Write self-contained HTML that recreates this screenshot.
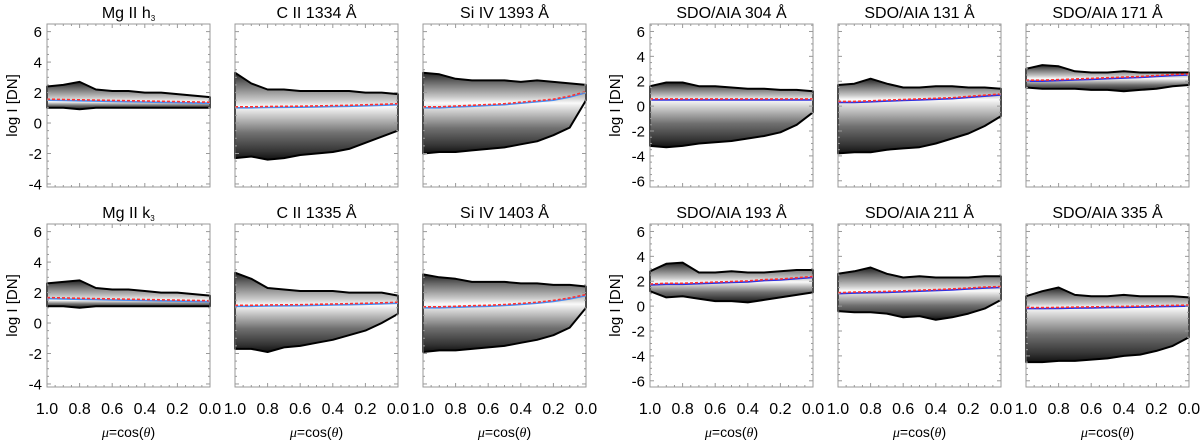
<!DOCTYPE html>
<html><head><meta charset="utf-8"><style>
html,body{margin:0;padding:0;background:#fff;}
svg{display:block;font-family:"Liberation Sans",sans-serif;}
</style></head><body>
<svg id="fig" width="1200" height="441" viewBox="0 0 1200 441" xmlns="http://www.w3.org/2000/svg">
<defs id="defs"></defs>
</svg>
<script>
const muVals = [1.0,0.9,0.8,0.7,0.6,0.5,0.4,0.3,0.2,0.1,0.0];
const panelTitles = ["Mg II h","C II 1334 Å","Si IV 1393 Å","Mg II k","C II 1335 Å","Si IV 1403 Å",
  "SDO/AIA 304 Å","SDO/AIA 131 Å","SDO/AIA 171 Å","SDO/AIA 193 Å","SDO/AIA 211 Å","SDO/AIA 335 Å"];
const leftYTicks = [-4,-2,0,2,4,6];
const rightYTicks = [-6,-4,-2,0,2,4,6];
const xTickLabels = ["1.0","0.8","0.6","0.4","0.2","0.0"];
const medians = [
 [1.5,1.48,1.46,1.44,1.42,1.4,1.38,1.36,1.34,1.32,1.3],
 [1.0,1.0,1.02,1.03,1.04,1.06,1.08,1.1,1.13,1.16,1.2],
 [1.0,1.0,1.05,1.1,1.15,1.2,1.3,1.4,1.5,1.7,2.0],
 [1.6,1.58,1.56,1.54,1.52,1.5,1.48,1.46,1.44,1.42,1.4],
 [1.1,1.1,1.12,1.13,1.14,1.16,1.18,1.2,1.23,1.26,1.3],
 [1.0,1.0,1.03,1.07,1.1,1.15,1.22,1.3,1.42,1.58,1.8],
 [0.5,0.5,0.5,0.5,0.5,0.5,0.5,0.5,0.5,0.5,0.5],
 [0.3,0.3,0.35,0.4,0.45,0.5,0.55,0.6,0.7,0.8,0.9],
 [2.0,2.0,2.05,2.1,2.15,2.2,2.25,2.3,2.38,2.45,2.5],
 [1.7,1.75,1.75,1.8,1.85,1.9,1.95,2.05,2.1,2.2,2.3],
 [1.0,1.05,1.08,1.1,1.15,1.2,1.25,1.3,1.38,1.45,1.5],
 [-0.2,-0.2,-0.18,-0.16,-0.14,-0.12,-0.1,-0.08,-0.05,-0.02,0.0]
];
const uppers = [
 [2.4,2.5,2.7,2.2,2.1,2.1,2.0,2.0,1.9,1.8,1.7],
 [3.3,2.6,2.2,2.2,2.1,2.1,2.1,2.1,2.0,2.0,1.9],
 [3.3,3.2,2.9,2.8,2.8,2.8,2.7,2.8,2.7,2.6,2.5],
 [2.6,2.7,2.8,2.3,2.2,2.2,2.1,2.0,2.0,1.9,1.8],
 [3.3,2.9,2.3,2.2,2.1,2.1,2.1,2.0,2.0,2.0,1.8],
 [3.2,3.0,2.9,2.7,2.7,2.7,2.6,2.6,2.5,2.5,2.4],
 [1.6,1.9,1.9,1.6,1.6,1.5,1.4,1.4,1.3,1.3,1.2],
 [1.7,1.8,2.2,1.8,1.5,1.5,1.6,1.6,1.5,1.5,1.4],
 [3.0,3.3,3.2,2.8,2.7,2.7,2.8,2.7,2.7,2.7,2.7],
 [2.8,3.4,3.5,2.7,2.7,2.8,2.7,2.7,2.8,2.9,2.9],
 [2.6,2.8,3.1,2.6,2.3,2.4,2.3,2.3,2.3,2.4,2.4],
 [0.8,1.2,1.5,0.9,0.8,0.8,0.9,0.8,0.8,0.8,0.7]
];
const lowers = [
 [1.0,1.0,0.9,1.0,1.0,1.0,1.0,1.0,1.0,1.0,1.0],
 [-2.3,-2.2,-2.4,-2.3,-2.1,-2.0,-1.9,-1.7,-1.3,-0.9,-0.5],
 [-2.0,-1.9,-1.9,-1.8,-1.7,-1.6,-1.4,-1.2,-0.8,-0.3,1.5],
 [1.1,1.1,1.0,1.1,1.1,1.1,1.1,1.1,1.1,1.1,1.1],
 [-1.7,-1.7,-1.9,-1.6,-1.5,-1.3,-1.1,-0.8,-0.5,0.0,0.6],
 [-1.9,-1.8,-1.8,-1.7,-1.6,-1.5,-1.3,-1.1,-0.8,-0.3,1.0],
 [-3.2,-3.3,-3.2,-3.0,-2.9,-2.8,-2.6,-2.4,-2.1,-1.5,-0.5],
 [-3.8,-3.7,-3.7,-3.5,-3.4,-3.3,-3.0,-2.6,-2.2,-1.6,-0.8],
 [1.5,1.4,1.4,1.4,1.3,1.3,1.2,1.3,1.4,1.6,1.7],
 [1.2,0.7,0.8,0.6,0.4,0.4,0.3,0.5,0.7,0.9,1.1],
 [-0.4,-0.5,-0.5,-0.6,-0.9,-0.8,-1.1,-0.9,-0.6,-0.2,0.5],
 [-4.5,-4.5,-4.4,-4.4,-4.3,-4.2,-4.0,-3.9,-3.6,-3.2,-2.5]
];

const NS = "http://www.w3.org/2000/svg";
const svg = document.getElementById('fig');
const defs = document.getElementById('defs');
const panelX = [47,235,423,47,235,423,650,838,1026,650,838,1026];
const panelW = 163;
function mk(tag, attrs, parent){
  const e = document.createElementNS(NS, tag);
  for (const k in attrs) e.setAttribute(k, attrs[k]);
  (parent||svg).appendChild(e);
  return e;
}

for (let p = 0; p < 12; p++) {
  const right = p >= 6;
  const row = (p % 6) < 3 ? 0 : 1;
  const x0 = panelX[p], w = panelW;
  const top = row === 0 ? 24 : 224;
  const h = 163;
  const yMin = right ? -6.5 : -4.2, yMax = right ? 6.6 : 6.5;
  const xs = v => x0 + (1 - v) * w;
  const ys = v => top + (yMax - v) / (yMax - yMin) * h;

  const g = mk('g', {});
  
  

  const up = uppers[p], lo = lowers[p], md = medians[p];
  const uMax = Math.max(...up), lMin = Math.min(...lo);
  const mMean = md.reduce((a, b) => a + b, 0) / md.length;
  const y1 = ys(uMax), y2 = ys(lMin), ym = ys(mMean);
  const off = Math.max(0.02, Math.min(0.98, (ym - y1) / (y2 - y1)));
  const grad = mk('linearGradient', {id: 'gr' + p, gradientUnits: 'userSpaceOnUse', x1: 0, x2: 0, y1: y1, y2: y2}, defs);
  const stops = [[0, '#222'], [off * 0.3, '#666'], [off * 0.8, '#c8c8c8'], [off, '#fafafa'], [off + (1 - off) * 0.15, '#d0d0d0'], [off + (1 - off) * 0.5, '#707070'], [off + (1 - off) * 0.85, '#333'], [1, '#111']];
  stops.forEach(s => mk('stop', {offset: s[0], 'stop-color': s[1]}, grad));

  let d = '';
  muVals.forEach((m, i) => { d += (i ? 'L' : 'M') + xs(m).toFixed(1) + ' ' + ys(up[i]).toFixed(1); });
  for (let i = muVals.length - 1; i >= 0; i--) d += 'L' + xs(muVals[i]).toFixed(1) + ' ' + ys(lo[i]).toFixed(1);
  d += 'Z';
  const band = mk('path', {d: d, fill: 'url(#gr' + p + ')', stroke: '#000', 'stroke-width': 2, 'stroke-linejoin': 'round'}, g);
  
  

  let md2 = '';
  muVals.forEach((m, i) => { md2 += (i ? 'L' : 'M') + xs(m).toFixed(1) + ' ' + ys(md[i]).toFixed(1); });
  const blue = mk('path', {d: md2, fill: 'none', stroke: right ? '#3030e0' : '#4a8cf0', 'stroke-width': 1.6}, g);
  
  
  const red = mk('path', {d: md2, fill: 'none', stroke: '#ff3030', 'stroke-width': 1.6, 'stroke-dasharray': '3 2', transform: 'translate(0,-1)'}, g);
  
  

  const frame = mk('rect', {x: x0, y: top, width: w, height: h, fill: 'none', stroke: '#999', 'stroke-width': 1}, g);
  
  

  for (let k = 0; k <= 20; k++) {
    const v = k / 20, xx = xs(v), len = k % 4 === 0 ? 4 : 2;
    mk('line', {x1: xx, x2: xx, y1: top + h, y2: top + h - len, stroke: '#999', 'stroke-width': 1}, g);
    mk('line', {x1: xx, x2: xx, y1: top, y2: top + len, stroke: '#999', 'stroke-width': 1}, g);
  }
  const yt = right ? rightYTicks : leftYTicks;
  for (let v = Math.ceil(yMin * 2) / 2; v <= yMax; v += 0.5) {
    const yy = ys(v), major = Math.abs(v % 2) < 1e-6, len = major ? 4 : 2;
    mk('line', {x1: x0, x2: x0 + len, y1: yy, y2: yy, stroke: '#999', 'stroke-width': 1}, g);
    mk('line', {x1: x0 + w, x2: x0 + w - len, y1: yy, y2: yy, stroke: '#999', 'stroke-width': 1}, g);
  }
  if (p % 3 === 0) {
    yt.forEach(v => {
      const t = mk('text', {x: x0 - 5, y: ys(v) + 5.5, 'text-anchor': 'end', 'font-size': 15}, g);
      t.textContent = v;
      
      
    });
    const ay = mk('text', {x: 0, y: 0, 'text-anchor': 'middle', 'font-size': 15, transform: 'translate(' + (x0 - 30) + ',' + (top + h / 2) + ') rotate(-90)'}, g);
    ay.textContent = 'log I [DN]';
    
    
  }
  const tt = mk('text', {x: x0 + w / 2, y: top - 6, 'text-anchor': 'middle', 'font-size': 16}, g);
  tt.textContent = panelTitles[p];
  if (p === 0 || p === 3) {
    const sub = mk('tspan', {'font-size': 8, dy: 3}, tt);
    sub.textContent = '3';
  }
  
  

  if (row === 1) {
    xTickLabels.forEach((s, k) => {
      const t = mk('text', {x: x0 + k * w / 5, y: 414, 'text-anchor': 'middle', 'font-size': 16}, g);
      t.textContent = s;
      
      
    });
    const ax = mk('text', {x: x0 + w / 2, y: 437, 'text-anchor': 'middle', 'font-size': 14}, g);
    const t1 = mk('tspan', {'font-style': 'italic', 'font-family': 'Liberation Serif, serif'}, ax); t1.textContent = 'μ';
    const t2 = mk('tspan', {}, ax); t2.textContent = '=cos(';
    const t3 = mk('tspan', {'font-style': 'italic', 'font-family': 'Liberation Serif, serif'}, ax); t3.textContent = 'θ';
    const t4 = mk('tspan', {}, ax); t4.textContent = ')';
    
    
  }
}
</script>
</body></html>
